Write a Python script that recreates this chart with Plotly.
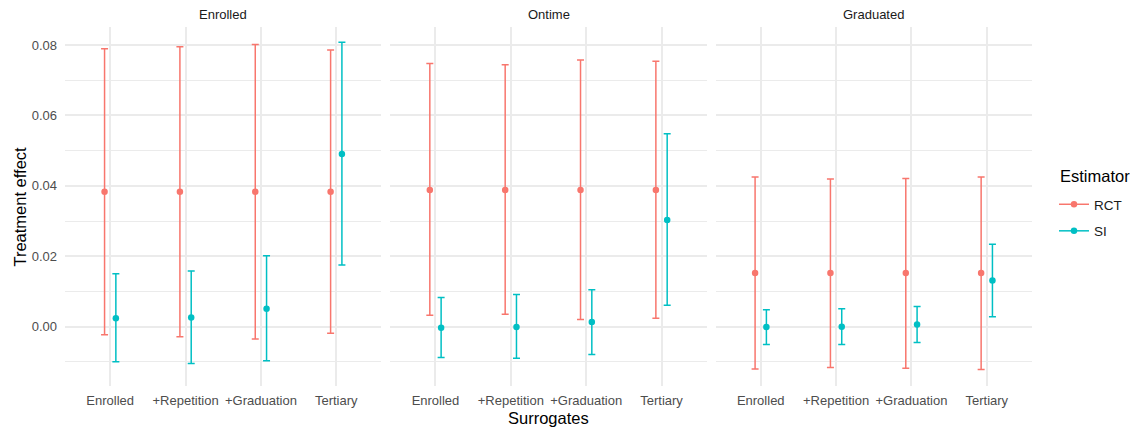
import plotly.graph_objects as go

surrogates = ["Enrolled", "+Repetition", "+Graduation", "Tertiary"]
outcomes = ["Enrolled", "Ontime", "Graduated"]
estimators = ["RCT", "SI"]

rct_est_enrolled = [0.0383, 0.0383, 0.0383, 0.0383]
rct_lo_enrolled = [-0.0023, -0.0029, -0.0035, -0.0019]
rct_hi_enrolled = [0.0789, 0.0795, 0.0801, 0.0786]
si_est_enrolled = [0.0024, 0.0026, 0.0051, 0.0490]
si_lo_enrolled = [-0.0100, -0.0105, -0.0097, 0.0175]
si_hi_enrolled = [0.0150, 0.0158, 0.0201, 0.0808]

rct_est_ontime = [0.0388, 0.0388, 0.0388, 0.0388]
rct_lo_ontime = [0.0032, 0.0035, 0.0020, 0.0024]
rct_hi_ontime = [0.0747, 0.0744, 0.0757, 0.0754]
si_est_ontime = [-0.0003, -0.0001, 0.0013, 0.0303]
si_lo_ontime = [-0.0088, -0.0090, -0.0079, 0.0061]
si_hi_ontime = [0.0083, 0.0091, 0.0105, 0.0548]

rct_est_grad = [0.0152, 0.0152, 0.0152, 0.0152]
rct_lo_grad = [-0.0120, -0.0116, -0.0118, -0.0122]
rct_hi_grad = [0.0425, 0.0419, 0.0421, 0.0425]
si_est_grad = [-0.0001, 0.0000, 0.0006, 0.0131]
si_lo_grad = [-0.0051, -0.0051, -0.0045, 0.0028]
si_hi_grad = [0.0048, 0.0051, 0.0057, 0.0234]

panels = [
    (rct_est_enrolled, rct_lo_enrolled, rct_hi_enrolled, si_est_enrolled, si_lo_enrolled, si_hi_enrolled),
    (rct_est_ontime, rct_lo_ontime, rct_hi_ontime, si_est_ontime, si_lo_ontime, si_hi_ontime),
    (rct_est_grad, rct_lo_grad, rct_hi_grad, si_est_grad, si_lo_grad, si_hi_grad),
]

colors = {"RCT": "#F8766D", "SI": "#00BFC4"}
dodge = {"RCT": -0.075, "SI": 0.075}
FONT = "Liberation Sans"
GRID = "#EBEBEB"
TICK = 13

fig = go.Figure()
base_x = list(range(1, len(surrogates) + 1))

for i, (re, rl, rh, se, sl, sh) in enumerate(panels):
    xa = "x" if i == 0 else f"x{i+1}"
    ya = "y" if i == 0 else f"y{i+1}"
    for name, est, lo, hi in (("RCT", re, rl, rh), ("SI", se, sl, sh)):
        fig.add_trace(go.Scatter(
            x=[b + dodge[name] for b in base_x],
            y=est,
            mode="markers",
            marker=dict(color=colors[name], size=6.5),
            error_y=dict(type="data", symmetric=False,
                         array=[h - e for h, e in zip(hi, est)],
                         arrayminus=[e - l for e, l in zip(est, lo)],
                         color=colors[name], thickness=1.5, width=3.5),
            showlegend=False, xaxis=xa, yaxis=ya, name=name,
            hoverinfo="skip",
        ))

for name in estimators:
    fig.add_trace(go.Scatter(
        x=[None], y=[None], mode="lines+markers", name=name,
        legendgroup=name,
        marker=dict(color=colors[name], size=6.5),
        line=dict(color=colors[name], width=1.5),
        xaxis="x", yaxis="y",
    ))

# page body has an 8px offset; target plot area in page pixels: x 65..1033, y 27..386
OFF = 8
PX0, PX1, PY0, PY1 = 65, 1033, 27, 386
W, H = 1138 - OFF, 432 - OFF
L, T = PX0 - OFF, PY0 - OFF
R = W - (PX1 - OFF)
B = H - (PY1 - OFF)
pw = PX1 - PX0
ph = PY1 - PY0

def px_x(x):
    return (x - PX0) / pw

def px_y(y):
    return (PY1 - y) / ph

gap = 8.8 / pw
w = (1 - 2 * gap) / 3
domains = [[0, w], [w + gap, 2 * w + gap], [2 * w + 2 * gap, 1]]

yrange = [-0.01686, 0.0851]

layout = dict(
    width=W, height=H,
    margin=dict(l=L, r=R, t=T, b=B),
    paper_bgcolor="white", plot_bgcolor="white",
    font=dict(family=FONT, size=TICK, color="#4D4D4D"),
    showlegend=True,
    legend=dict(
        x=px_x(1054), xanchor="left", y=px_y(189), yanchor="top",
        font=dict(size=13.5, color="#1A1A1A"),
        tracegroupgap=6, traceorder="grouped",
    ),
)

annotations = []
for i in range(3):
    key = "" if i == 0 else str(i + 1)
    layout[f"xaxis{key}"] = dict(
        domain=domains[i], range=[0.4, 4.6],
        tickvals=base_x, ticktext=surrogates,
        showgrid=True, gridcolor=GRID, gridwidth=1.5,
        zeroline=False, showline=False, ticks="",
        ticklabelstandoff=5,
        anchor=f"y{key}", fixedrange=True,
        tickfont=dict(size=TICK, color="#4D4D4D"),
    )
    yax = dict(
        range=yrange, anchor=f"x{key}",
        tickvals=[0.0, 0.02, 0.04, 0.06, 0.08],
        tickformat=".2f",
        showgrid=True, gridcolor=GRID, gridwidth=1.5,
        minor=dict(tickvals=[-0.01, 0.01, 0.03, 0.05, 0.07], showgrid=True,
                   gridcolor=GRID, gridwidth=1.0, ticks=""),
        zeroline=False, showline=False, ticks="",
        tickfont=dict(size=TICK, color="#4D4D4D"),
    )
    if i == 0:
        yax["ticklabelstandoff"] = 7
    else:
        yax["matches"] = "y"
        yax["showticklabels"] = False
    layout[f"yaxis{key}"] = yax
    annotations.append(dict(
        text=outcomes[i], xref="paper", yref="paper",
        x=(domains[i][0] + domains[i][1]) / 2, y=px_y(14),
        xanchor="center", yanchor="middle", showarrow=False,
        font=dict(size=TICK, color="#1A1A1A"),
    ))

annotations.append(dict(
    text="Surrogates", xref="paper", yref="paper",
    x=0.5, y=px_y(418),
    xanchor="center", yanchor="middle", showarrow=False,
    font=dict(size=16.5, color="#000000"),
))
annotations.append(dict(
    text="Treatment effect", xref="paper", yref="paper",
    x=px_x(19), y=0.5, textangle=-90,
    xanchor="center", yanchor="middle", showarrow=False,
    font=dict(size=16.5, color="#000000"),
))
annotations.append(dict(
    text="Estimator", xref="paper", yref="paper",
    x=px_x(1059), y=px_y(176),
    xanchor="left", yanchor="middle", showarrow=False,
    font=dict(size=16.5, color="#000000"),
))
layout["annotations"] = annotations
fig.update_layout(**layout)

fig.write_html("out.html")
